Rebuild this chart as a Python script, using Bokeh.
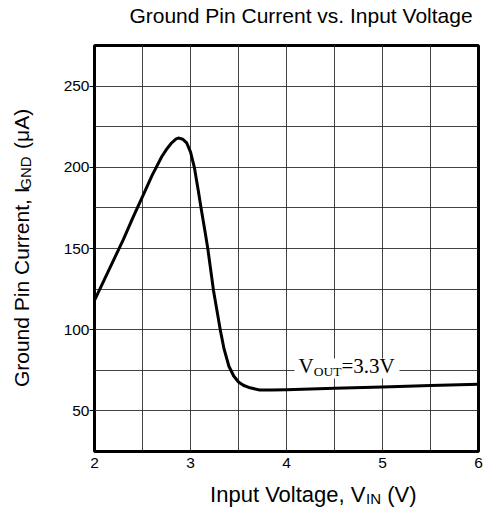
import math
from bokeh.plotting import figure
from bokeh.models import Label, BoxAnnotation, Range1d
from bokeh.layouts import column, row
from bokeh.embed import file_html
from bokeh.resources import INLINE

# ---- data ----
vin = [2.0, 2.1, 2.2, 2.3, 2.4, 2.5, 2.6, 2.7, 2.75, 2.8, 2.85, 2.88, 2.92,
       2.96, 3.0, 3.04, 3.08, 3.11, 3.15, 3.18, 3.21, 3.24, 3.275, 3.31,
       3.35, 3.4, 3.45, 3.5, 3.55, 3.62, 3.72, 3.85, 4.0, 4.5, 5.0, 5.5, 6.0]
ignd = [118, 130.5, 143, 155.5, 169, 182, 195, 206.5, 211, 214.8, 217.5, 218,
        217.3, 215, 209.5, 200, 186, 175, 161, 150, 137, 124, 112, 100,
        88, 77.5, 71.5, 67.8, 65.8, 64.2, 62.9, 62.8, 63.0, 63.9, 64.7, 65.6, 66.4]
x_ticks = [2, 3, 4, 5, 6]
y_ticks = [50, 100, 150, 200, 250]
x_grid = [2.5, 3, 3.5, 4, 4.5, 5, 5.5]
y_grid = [50, 75, 100, 125, 150, 175, 200, 225, 250]

title_text = "Ground Pin Current vs. Input Voltage"
xlabel_parts = ["Input Voltage, V", "IN", "(V)"]
ylabel_main = ["Ground Pin Current, I", "(\u03bcA)"]
ylabel_sub = "GND"
note_parts = ["V", "OUT", "=3.3V"]

SANS = "Liberation Sans"
SERIF = "Liberation Serif"
AW = {'I': .278, 'n': .556, 'p': .556, 'u': .556, 't': .278, ' ': .278, 'V': .667,
      'o': .556, 'l': .222, 'a': .556, 'g': .556, 'e': .556, ',': .278, 'N': .722,
      '(': .333, ')': .333, 'G': .778, 'r': .333, 'd': .556, 'P': .667, 'i': .222,
      'C': .722, 'D': .722, '\u03bc': .576, 'A': .667, '\u00a0': .278, '\u2002': .5}
TW = {'V': .722, 'O': .722, 'U': .722, 'T': .611, '=': .564, '3': .5, '.': .25, ' ': .25}
MID = 0.33   # em distance from baseline up to the "middle" anchor


def width(s, size, table):
    return sum(table.get(c, .5) for c in s) * size


def text_fig(w, h):
    f = figure(width=w, height=h, x_range=Range1d(0, w), y_range=Range1d(0, h),
               output_backend="svg", toolbar_location=None,
               x_axis_location=None, y_axis_location=None,
               min_border=0, min_border_left=0, min_border_right=0,
               min_border_top=0, min_border_bottom=0)
    f.outline_line_color = None
    f.grid.visible = False
    f.background_fill_color = "white"
    f.border_fill_color = "white"
    return f


def place_run(fig, parts, start, base, font, table, to_fig):
    """horizontal run; parts: (text, size, baseline shift, gap before in em)."""
    pos = 0.0
    for txt, size, shift, gap in parts:
        pos += gap * size
        w = width(txt, size, table)
        fx, fy = to_fig(start + pos + w / 2, base + shift - MID * size)
        fig.add_layout(Label(x=fx, y=fy, text=txt, text_font=font,
                             text_font_size=f"{size}px", text_color="black",
                             text_align="center", text_baseline="middle"))
        pos += w


class ScreenFig:
    """adds labels in frame-relative screen units"""
    def __init__(self, fig):
        self.fig = fig

    def add_layout(self, lab):
        lab.x_units = "screen"
        lab.y_units = "screen"
        self.fig.add_layout(lab)


# ---- page geometry ----
PAGE_W = 489
TITLE_H = 30
YLAB_W = 40
MAIN_W = PAGE_W - YLAB_W
MAIN_H = 453
XLAB_H = 30

# ---- main chart ----
p = figure(width=MAIN_W, height=MAIN_H, x_range=Range1d(2, 6), y_range=Range1d(25, 275),
           output_backend="svg", toolbar_location=None,
           min_border_left=54, min_border_right=11, min_border_top=15,
           min_border_bottom=32)
p.outline_line_color = "black"
p.outline_line_width = 3
p.background_fill_color = "white"
p.border_fill_color = "white"

p.xaxis.ticker = x_ticks
p.xaxis.axis_line_color = None
p.xaxis.major_tick_line_color = None
p.xaxis.major_tick_out = 0
p.xaxis.major_tick_in = 0
p.xaxis.minor_tick_line_color = None
p.xaxis.major_label_standoff = 6
p.xaxis.major_label_text_font = SANS
p.xaxis.major_label_text_font_size = "15.5px"
p.xaxis.major_label_text_color = "black"

p.yaxis.ticker = y_ticks
p.yaxis.axis_line_color = None
p.yaxis.major_tick_in = 0
p.yaxis.major_tick_out = 5
p.yaxis.major_tick_line_color = "black"
p.yaxis.minor_tick_line_color = None
p.yaxis.major_label_standoff = 0
p.yaxis.major_label_text_font = SANS
p.yaxis.major_label_text_font_size = "15.5px"
p.yaxis.major_label_text_color = "black"

p.xgrid.ticker = x_grid
p.ygrid.ticker = y_grid
for g in (p.xgrid, p.ygrid):
    g.grid_line_color = "#222222"
    g.grid_line_width = 1
    g.grid_line_alpha = 0.85

p.line(vin, ignd, line_color="black", line_width=3, line_join="round")

# V_OUT note (frame-relative screen units; frame left page x 94, bottom page y 451)
FX0, FY0 = 94, 451
p.add_layout(BoxAnnotation(left=294 - FX0, right=399 - FX0, bottom=FY0 - 378, top=FY0 - 358,
                           left_units="screen", right_units="screen",
                           top_units="screen", bottom_units="screen",
                           fill_color="white", fill_alpha=1, line_color=None))
place_run(ScreenFig(p),
          [(note_parts[0], 21, 0, 0), (note_parts[1], 13.5, 2.5, 0), (note_parts[2], 21, 0, 0)],
          298, 372.5, SERIF, TW, lambda px, py: (px - FX0, FY0 - py))

# ---- title strip ----
tf = text_fig(PAGE_W, TITLE_H)
tw = width(title_text, 21, AW)
place_run(tf, [(title_text, 21, 0, 0)], 475 - tw, 22, SANS, AW,
          lambda px, py: (px, TITLE_H - py))

# ---- x label strip ----
xf = text_fig(PAGE_W, XLAB_H)
XTOP = TITLE_H + MAIN_H
place_run(xf, [(xlabel_parts[0], 22, 0, 0), (xlabel_parts[1], 15, 1.5, 0),
               (xlabel_parts[2], 22, 0, 0.278)],
          209, 501, SANS, AW, lambda px, py: (px, XTOP + XLAB_H - py))

# ---- y label strip (rotated): one run with a gap for the subscript ----
yf = text_fig(YLAB_W, MAIN_H)
ybig, ysub = 21, 15
gap = "\u2002\u2002\u00a0\u00a0\u00a0"          # room for the subscript + a space
ytext = ylabel_main[0] + gap + ylabel_main[1]
ystart, ybase = 395, 28                           # page y of text start, page x of baseline
ylen = width(ytext, ybig, AW)
to_y = lambda px, py: (px, TITLE_H + MAIN_H - py)
fx, fy = to_y(ybase - MID * ybig, ystart - ylen / 2)
yf.add_layout(Label(x=fx, y=fy, text=ytext, angle=math.pi / 2, text_font=SANS,
                    text_font_size=f"{ybig}px", text_color="black",
                    text_align="center", text_baseline="middle"))
w0 = width(ylabel_main[0], ybig, AW)
wsub = width(ylabel_sub, ysub, AW)
# the smaller rotated text is drawn about 6px further along than the big one
fx, fy = to_y(ybase + 1.5 - MID * ysub, ystart - w0 - 0.5 - wsub / 2 - 6)
yf.add_layout(Label(x=fx, y=fy, text=ylabel_sub, angle=math.pi / 2, text_font=SANS,
                    text_font_size=f"{ysub}px", text_color="black",
                    text_align="center", text_baseline="middle"))

layout = column(tf, row(yf, p), xf)
open("out.html", "w").write(file_html(layout, INLINE))
